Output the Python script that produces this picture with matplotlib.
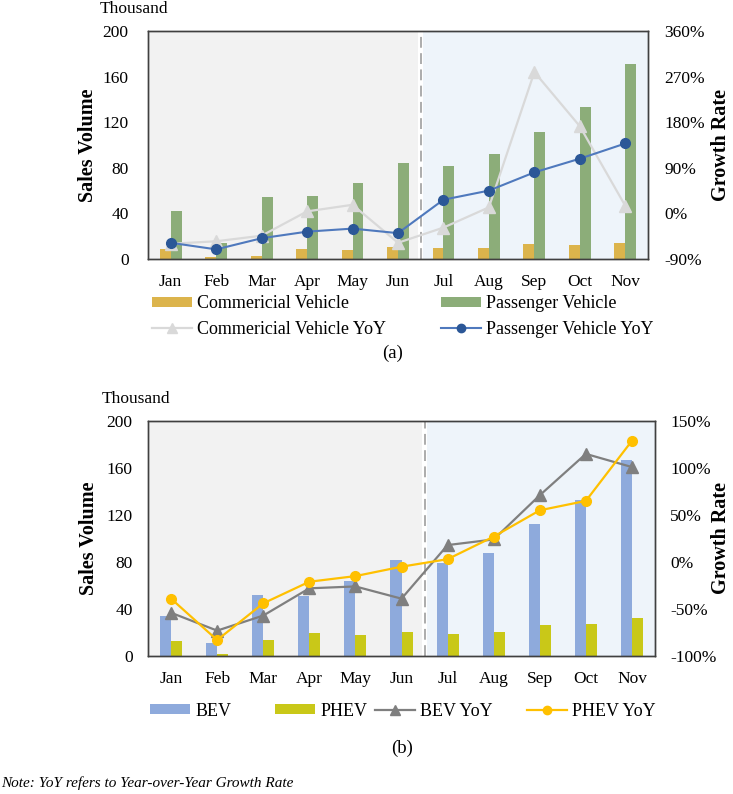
import numpy as np
import matplotlib
matplotlib.use("Agg")
import matplotlib.pyplot as plt
from matplotlib.patches import Patch
from matplotlib.lines import Line2D

W, H = 733, 794

months = ["Jan", "Feb", "Mar", "Apr", "May", "Jun", "Jul", "Aug", "Sep", "Oct", "Nov"]

# panel (a) - thousand units / percent
commercial = [9, 1.5, 2.6, 8.5, 7.6, 10.2, 9.3, 9.3, 13.4, 12, 14.3]
passenger = [42, 14, 54, 55, 67, 84, 82, 92, 111, 133, 171]
commercial_yoy = [-60, -55, -44, 4, 17, -58, -28, 12, 279, 172, 15]
passenger_yoy = [-58, -71, -49, -36, -30, -39, 27, 45, 81, 108, 138]

# panel (b)
bev = [34, 11, 52, 51, 64, 82, 79, 88, 112, 133, 167]
phev = [12.5, 1.7, 13.3, 19.9, 18.2, 20.4, 18.7, 20.4, 26.1, 27, 32.6]
bev_yoy = [-54, -73, -57, -28, -26, -39, 18, 24, 71, 115, 101]
phev_yoy = [-39, -83, -44, -21, -15, -5, 3, 27, 55, 65, 129]

FS = 12.5
plt.rcParams["font.family"] = ["Liberation Serif", "DejaVu Serif"]
plt.rcParams["font.size"] = FS


def fx(px):
    return px / W


def fy(py):
    return 1 - py / H


def make_panel(fig, box, left_pad, right_pad, bars, lines, ylim2, ystep2):
    x0, y0, x1, y1 = box
    ax = fig.add_axes([fx(x0), fy(y1), (x1 - x0) / W, (y1 - y0) / H])
    x = np.arange(len(months))

    # shaded halves with a thin gap around the split
    ax.axvspan(-0.5, 5.45, color="#f2f2f2", lw=0, zorder=0)
    ax.axvspan(5.55, 10.5, color="#eef4fa", lw=0, zorder=0)
    ax.axvline(5.5, color="#a6a6a6", ls=(0, (6, 3)), lw=1.3, zorder=1)

    for vals, off, col in bars:
        ax.bar(x + off, vals, width=0.24, color=col, zorder=2)

    ax.set_xlim(-0.5, 10.5)
    ax.set_ylim(0, 200)
    ax.set_yticks(range(0, 201, 40))
    ax.set_xticks(x)
    ax.set_xticklabels(months)
    ax.tick_params(axis="both", length=0)
    ax.tick_params(axis="y", pad=left_pad)
    ax.tick_params(axis="x", pad=11)

    ax2 = ax.twinx()
    for vals, col, mcol, mk, ms, lw in lines:
        ax2.plot(x, vals, color=col, lw=lw, marker=mk, markersize=ms,
                 markerfacecolor=mcol, markeredgecolor=mcol, zorder=3)
    ax2.set_ylim(*ylim2)
    ax2.set_yticks(np.arange(ylim2[0], ylim2[1] + 1, ystep2))
    ax2.set_yticklabels([f"{int(v)}%" for v in ax2.get_yticks()])
    ax2.tick_params(axis="y", length=0, pad=right_pad)

    for a in (ax, ax2):
        for sp in a.spines.values():
            sp.set_color("#404040")
            sp.set_linewidth(1.0)
    return ax, ax2


def entry(fig, handle, label, x, y):
    fig.legend([handle], [label], loc="center left",
               bbox_to_anchor=(fx(x), fy(y)), frameon=False,
               borderpad=0, borderaxespad=0, handlelength=2.2,
               handleheight=0.5, handletextpad=0.3, fontsize=13)


def main():
    fig = plt.figure(figsize=(W / 100, H / 100), dpi=100)

    # ---- panel (a)
    make_panel(
        fig, (148, 31, 648, 259), 14, 12,
        [(commercial, -0.12, "#dcb44c"), (passenger, 0.12, "#8cad79")],
        [(commercial_yoy, "#d9d9d9", "#d9d9d9", "^", 8, 1.6),
         (passenger_yoy, "#4f79bd", "#2b5797", "o", 7, 1.5)],
        (-90, 360), 90)
    fig.text(fx(100), fy(9), "Thousand", ha="left", va="center")
    fig.text(fx(88), fy(145), "Sales Volume", rotation=90, ha="center", va="center",
             fontweight="bold", fontsize=14.5)
    fig.text(fx(721), fy(145), "Growth Rate", rotation=90, ha="center", va="center",
             fontweight="bold", fontsize=14.5)

    entry(fig, Patch(facecolor="#dcb44c"), "Commericial Vehicle", 152, 304)
    entry(fig, Patch(facecolor="#8cad79"), "Passenger Vehicle", 441, 304)
    entry(fig, Line2D([], [], color="#d9d9d9", marker="^", markersize=7, lw=1.6),
          "Commericial Vehicle YoY", 152, 329)
    entry(fig, Line2D([], [], color="#4f79bd", marker="o", markersize=6,
                      markerfacecolor="#2b5797", markeredgecolor="#2b5797", lw=1.5),
          "Passenger Vehicle YoY", 441, 329)
    fig.text(fx(393), fy(353), "(a)", ha="center", va="center", fontsize=13.5)

    # ---- panel (b)
    make_panel(
        fig, (148, 421, 655, 656), 11, 11,
        [(bev, -0.12, "#8eaadc"), (phev, 0.12, "#c9c818")],
        [(bev_yoy, "#7f7f7f", "#7f7f7f", "^", 8, 1.6),
         (phev_yoy, "#ffc000", "#ffc000", "o", 7, 1.6)],
        (-100, 150), 50)
    fig.text(fx(102), fy(399), "Thousand", ha="left", va="center")
    fig.text(fx(89), fy(538), "Sales Volume", rotation=90, ha="center", va="center",
             fontweight="bold", fontsize=14.5)
    fig.text(fx(721), fy(538), "Growth Rate", rotation=90, ha="center", va="center",
             fontweight="bold", fontsize=14.5)

    entry(fig, Patch(facecolor="#8eaadc"), "BEV", 150, 711)
    entry(fig, Patch(facecolor="#c9c818"), "PHEV", 275, 711)
    entry(fig, Line2D([], [], color="#7f7f7f", marker="^", markersize=7, lw=1.6),
          "BEV YoY", 375, 711)
    entry(fig, Line2D([], [], color="#ffc000", marker="o", markersize=6, lw=1.6),
          "PHEV YoY", 527, 711)
    fig.text(fx(402), fy(748), "(b)", ha="center", va="center", fontsize=13.5)

    fig.text(fx(1), fy(783), "Note: YoY refers to Year-over-Year Growth Rate",
             ha="left", va="center", style="italic", fontsize=11)

    fig.savefig("out.png", dpi=100)
    plt.close(fig)


if __name__ == "__main__":
    main()
